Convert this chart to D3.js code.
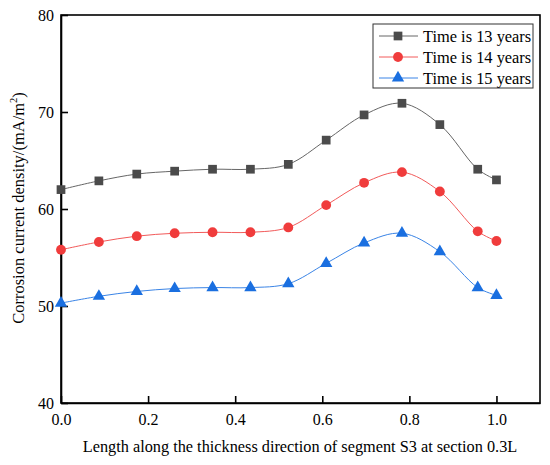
<!DOCTYPE html>
<html>
<head>
<meta charset="utf-8">
<script src="https://cdn.jsdelivr.net/npm/d3@7"></script>
<style>
  body { margin: 0; background: #fff; }
  svg text { font-family: "Liberation Serif", "Times New Roman", serif; fill: #000; }
</style>
</head>
<body>
<svg id="chart" width="550" height="465"></svg>
<script>
// positions along thickness (normalised)
var xs = [0, 0.087, 0.174, 0.261, 0.348, 0.435, 0.522, 0.609, 0.696, 0.783, 0.870, 0.957, 1.0];
var year13 = [62.0, 62.9, 63.6, 63.9, 64.1, 64.1, 64.6, 67.1, 69.7, 70.9, 68.7, 64.1, 63.0];
var year14 = [55.8, 56.6, 57.2, 57.5, 57.6, 57.6, 58.1, 60.4, 62.7, 63.8, 61.8, 57.7, 56.7];
var year15 = [50.3, 51.0, 51.5, 51.8, 51.9, 51.9, 52.3, 54.4, 56.5, 57.5, 55.6, 51.9, 51.1];
var seriesNames = ['Time is 13 years', 'Time is 14 years', 'Time is 15 years'];
var xTicks = [0, 0.2, 0.4, 0.6, 0.8, 1.0];
var yTicks = [40, 50, 60, 70, 80];

var series = [
  { name: seriesNames[0], values: year13, color: '#4b4b4b', line: '#666', symbol: d3.symbolSquare, size: 76 },
  { name: seriesNames[1], values: year14, color: '#f03c3c', line: '#f25a5a', symbol: d3.symbolCircle, size: 76 },
  { name: seriesNames[2], values: year15, color: '#1a6fe0', line: '#3a84e6', symbol: d3.symbolTriangle, size: 66 }
];

var svg = d3.select('#chart');
var margin = { left: 61, right: 10, top: 15, bottom: 62 };
var W = 550, H = 465;

var x = d3.scaleLinear().domain([0, 1.1]).range([margin.left, W - margin.right]);
var y = d3.scaleLinear().domain([40, 80]).range([H - margin.bottom, margin.top]);

// frame
svg.append('rect')
  .attr('x', x(0)).attr('y', y(80))
  .attr('width', x(1.1) - x(0)).attr('height', y(40) - y(80))
  .attr('fill', 'none').attr('stroke', '#000').attr('stroke-width', 1.6);

// axes, ticks inside
var xAxis = svg.append('g').attr('transform', 'translate(0,' + y(40) + ')')
  .call(d3.axisBottom(x).tickValues(xTicks).tickFormat(d3.format('.1f')).tickSizeInner(-7).tickSizeOuter(0).tickPadding(11));
var yAxis = svg.append('g').attr('transform', 'translate(' + x(0) + ',0)')
  .call(d3.axisLeft(y).tickValues(yTicks).tickSizeInner(-7).tickSizeOuter(0).tickPadding(7));

[xAxis, yAxis].forEach(function(a) {
  a.select('.domain').attr('stroke-width', 1.6);
  a.selectAll('.tick line').attr('stroke-width', 1.6);
  a.selectAll('.tick text').style('font-family', '"Liberation Serif", serif').style('font-size', '16px');
});
xAxis.selectAll('.tick text').attr('dy', '0.71em');

var line = d3.line()
  .x(function(d, i) { return x(xs[i]); })
  .y(function(d) { return y(d); })
  .curve(d3.curveCatmullRom.alpha(0.5));

series.forEach(function(s) {
  svg.append('path').attr('d', line(s.values))
    .attr('fill', 'none').attr('stroke', s.line).attr('stroke-width', 1);
  svg.append('g').selectAll('path').data(s.values).join('path')
    .attr('transform', function(d, i) { return 'translate(' + x(xs[i]) + ',' + y(d) + ')'; })
    .attr('d', d3.symbol().type(s.symbol).size(s.size))
    .attr('fill', s.color);
});

// legend
var lg = svg.append('g');
lg.append('rect').attr('x', 373).attr('y', 24).attr('width', 160).attr('height', 64)
  .attr('fill', '#fff').attr('stroke', '#333').attr('stroke-width', 1);
series.forEach(function(s, i) {
  var ly = 36 + i * 21;
  lg.append('line').attr('x1', 379).attr('x2', 418).attr('y1', ly).attr('y2', ly)
    .attr('stroke', s.line).attr('stroke-width', 1);
  lg.append('path').attr('transform', 'translate(398,' + ly + ')')
    .attr('d', d3.symbol().type(s.symbol).size(s.size)).attr('fill', s.color);
  lg.append('text').attr('x', 423).attr('y', ly).attr('dy', '0.35em')
    .style('font-size', '16.4px').text(s.name);
});

// axis titles
svg.append('text')
  .attr('transform', 'translate(24,208) rotate(-90)')
  .attr('text-anchor', 'middle').style('font-size', '16.5px')
  .html('Corrosion current density/(mA/m<tspan dy="-7" font-size="10.5px">2</tspan><tspan dy="7">)</tspan>');

svg.append('text')
  .attr('x', 300).attr('y', 452).attr('text-anchor', 'middle').style('font-size', '16.3px')
  .text('Length along the thickness direction of segment S3 at section 0.3L');
</script>
</body>
</html>
